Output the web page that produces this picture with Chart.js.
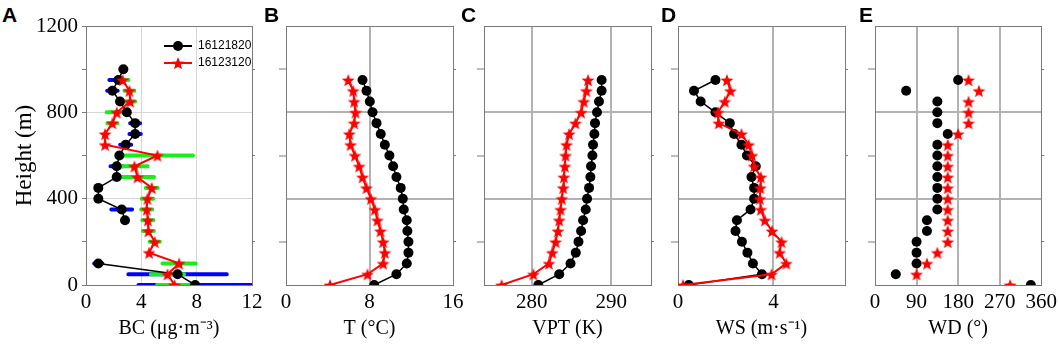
<!DOCTYPE html>
<html>
<head>
<meta charset="utf-8">
<script src="https://cdn.jsdelivr.net/npm/chart.js@4.4.1/dist/chart.umd.min.js"></script>
<style>
    body {margin: 0; background: #fff;}
    #fig {position: relative; width: 1059px; height: 345px; overflow: hidden; background: #fff;}
    #fig canvas {position: absolute; top: 0;}
    .tag {position: absolute; top: 4px; font: bold 21px 'Liberation Sans', Arial, sans-serif; line-height: 1; color: #000;}
</style>
</head>
<body>
<div id="fig"></div>
<script>
// MODULE'S VARS
const HEIGHTS = [0, 50, 100, 150, 200, 250, 300, 350, 400, 450, 500,
    550, 600, 650, 700, 750, 800, 850, 900, 950, 1000];
const SERIES_NAMES = ['16121820', '16123120'];

// BC (ug/m3) and its standard deviation
const BC_1218 = [7.89, 6.62, 0.89, null, null, null, 2.82, 2.58, 0.89, 0.89, 2.22,
    2.22, 2.41, 2.87, 3.55, 3.55, 2.95, 2.46, 1.91, 2.34, 2.7];
const BC_1218_ERR = [4.1, 3.56, 0.3, null, null, null, null, 0.75, null, null, null,
    0.45, null, 0.4, 0.41, 0.36, null, null, 0.38, 0.65, null];
const BC_1231 = [6.4, 5.89, 6.73, 4.56, 4.97, 4.51, 4.47, 4.39, 4.44, 4.75, 3.72,
    3.5, 5.16, 1.38, 1.38, 1.91, 2.22, 3.19, 3.14, 2.65, null];
const BC_1231_ERR = [1.27, 1.2, 1.2, null, 0.36, 0.4, 0.4, 0.4, 0.42, 0.43, 1.2,
    0.95, 2.57, null, null, 0.36, 0.73, 0.36, 0.36, 0.42, null];
// temperature (C)
const T_1218 = [8.45, 10.58, 11.57, 11.73, 11.73, 11.63, 11.57, 11.28, 11.19, 10.99, 10.58,
    10.26, 9.91, 9.47, 9.08, 8.67, 8.29, 8.03, 7.71, 7.33, null];
const T_1231 = [4.21, 7.81, 9.31, 9.47, 9.31, 9.05, 8.76, 8.51, 8.13, 7.71, 7.33,
    7.01, 6.6, 6.18, 6.06, 6.53, 6.66, 6.53, 6.44, 5.96, null];
// virtual potential temperature (K)
const VPT_1218 = [280.83, 283.46, 284.88, 285.54, 285.88, 286.21, 286.46, 286.79, 286.96, 287.21, 287.38,
    287.46, 287.63, 287.71, 287.88, 287.96, 288.21, 288.46, 288.79, 288.79, null];
const VPT_1231 = [276.21, 280.21, 282.17, 282.58, 283.0, 283.29, 283.46, 283.63, 283.79, 283.96, 284.04,
    284.17, 284.25, 284.38, 284.71, 285.5, 286.21, 286.54, 286.88, 287.08, null];
// wind speed (m/s)
const WS_1218 = [0.45, 3.52, 3.14, 2.91, 2.68, 2.41, 2.47, 3.04, 3.19, 3.19, 3.08,
    3.26, 2.89, 2.66, 2.35, 2.17, 1.57, 0.95, 0.67, 1.57, null];
const WS_1231 = [0.21, 3.92, 4.54, 4.26, 4.34, 3.94, 3.64, 3.47, 3.43, 3.45, 3.47,
    3.19, 3.1, 2.96, 2.66, 1.71, 1.68, 1.96, 2.2, 2.05, null];
// wind direction (deg)
const WD_1218 = [337.5, 45, 90, 90, 90, 112.5, 112.5, 135, 135, 135, 135,
    135, 135, 135, 157.5, 135, 135, 135, 67.5, 180, null];
const WD_1231 = [292.5, 90, 112.5, 135, 157.5, 157.5, 157.5, 157.5, 157.5, 157.5, 157.5,
    157.5, 157.5, 157.5, 180, 202.5, 202.5, 202.5, 225, 202.5, null];

// axis ticks
const TICKS_HEIGHT = [0, 200, 400, 600, 800, 1000, 1200];
const TICKS_BC = [0, 4, 8, 12];
const TICKS_T = [0, 8, 16];
const TICKS_VPT = [280, 290];
const TICKS_WS = [0, 4];
const TICKS_WD = [0, 90, 180, 270, 360];

// STYLES
const SERIF = "'Liberation Serif', 'Times New Roman', serif";
const SANS = "'Liberation Sans', Arial, sans-serif";
const BLACK = '#000000';
const RED = '#ff0000';
const GREEN = '#1aee1a';
const BLUE = '#0000ff';
const FRAME = '#7a7a7a';
const NONE = 'rgba(0,0,0,0)';
const PAD_R = 16;

// MODULE'S FUNCTIONS
function makeStar(color, R) {
    const c = document.createElement('canvas');
    const s = Math.ceil(R * 2) + 2;
    c.width = s;
    c.height = s;
    const g = c.getContext('2d');
    g.fillStyle = color;
    g.beginPath();
    for (let k = 0; k < 10; k++) {
        const r = (k % 2) ? R * 0.42 : R;
        const a = -Math.PI / 2 + k * Math.PI / 5;
        g.lineTo(s / 2 + r * Math.cos(a), s / 2 + 0.8 + r * Math.sin(a));
    }
    g.closePath();
    g.fill();
    return c;
}

function makeDot(color, r) {
    const c = document.createElement('canvas');
    c.width = c.height = r * 2 + 2;
    const g = c.getContext('2d');
    g.fillStyle = color;
    g.beginPath();
    g.arc(r + 1, r + 1, r, 0, Math.PI * 2);
    g.fill();
    return c;
}

function makeLegendIcon(color, marker) {
    const c = document.createElement('canvas');
    c.width = 28;
    c.height = 14;
    const g = c.getContext('2d');
    g.strokeStyle = color;
    g.lineWidth = 2;
    g.beginPath();
    g.moveTo(0, 7);
    g.lineTo(28, 7);
    g.stroke();
    g.drawImage(marker, 14 - marker.width / 2, 7 - marker.height / 2);
    return c;
}

const STAR = makeStar(RED, 6.8);
const ICON_BLACK = makeLegendIcon(BLACK, makeDot(BLACK, 5));
const ICON_RED = makeLegendIcon(RED, STAR);

function points(values) {
    return HEIGHTS.map((h, i) => (values[i] === null) ? {x: null, y: null} : {x: values[i], y: h});
}

function errorSegments(values, errors) {
    const res = [];
    HEIGHTS.forEach((h, i) => {
        if (values[i] === null || errors[i] === null) return;
        res.push({x: values[i] - errors[i], y: h}, {x: values[i] + errors[i], y: h}, {x: null, y: null});
    });
    return res;
}

const PANELS = [
    {tag: 'A', tagX: 2, left: 86, right: 252, padL: 86, title: 'BC (μg·m⁻³)', min: 0, max: 12, ticks: TICKS_BC,
        black: BC_1218, red: BC_1231, blackErr: BC_1218_ERR, redErr: BC_1231_ERR, lines: true, first: true},
    {tag: 'B', tagX: 264, left: 286, right: 453, padL: 24, title: 'T (°C)', min: 0, max: 16, ticks: TICKS_T,
        black: T_1218, red: T_1231, lines: true},
    {tag: 'C', tagX: 461, left: 484, right: 651, padL: 24, title: 'VPT (K)', min: 274, max: 295, ticks: TICKS_VPT,
        black: VPT_1218, red: VPT_1231, lines: true},
    {tag: 'D', tagX: 661, left: 678, right: 845, padL: 24, title: 'WS (m·s⁻¹)', min: 0, max: 7, ticks: TICKS_WS,
        black: WS_1218, red: WS_1231, lines: true},
    {tag: 'E', tagX: 859, left: 875, right: 1043, padL: 24, title: 'WD (°)', min: 0, max: 360, ticks: TICKS_WD,
        black: WD_1218, red: WD_1231, lines: false},
];

function buildScales(p) {
    const gridColor = p.first ? '#d6d6d6' : '#b2b2b2';
    const gridWidth = p.first ? 1 : 2;
    const inside = (lo, hi, step) => (ctx) =>
        (ctx.tick && ctx.tick.value > lo && ctx.tick.value < hi && (!step || ctx.tick.value % step === 0))
            ? gridColor : NONE;
    const minorOnly = (ctx) => (ctx.tick && ctx.tick.value % 400 !== 0) ? FRAME : NONE;
    const setX = (s) => { s.ticks = p.ticks.map((v) => ({value: v})); };
    const setY = (s) => { s.ticks = TICKS_HEIGHT.map((v) => ({value: v})); };
    return {
        x: {
            type: 'linear', position: 'bottom', min: p.min, max: p.max,
            afterBuildTicks: setX,
            afterFit: (s) => { s.height = 60; },
            ticks: {autoSkip: false, maxRotation: 0, padding: 2, color: '#000', font: {family: SERIF, size: 21}},
            grid: {color: inside(p.min, p.max), lineWidth: gridWidth, tickLength: 3, tickColor: NONE},
            border: {color: FRAME, width: 1},
            title: {display: true, text: p.title, color: '#000', font: {family: SERIF, size: 20},
                padding: {top: 0, bottom: 4}},
        },
        x2: {
            type: 'linear', position: 'top', min: p.min, max: p.max,
            afterBuildTicks: setX,
            afterFit: (s) => { s.height = 26; },
            ticks: {display: false},
            grid: {drawOnChartArea: false, drawTicks: false},
            border: {color: FRAME, width: 1},
        },
        y: {
            type: 'linear', position: 'left', min: 0, max: 1200,
            afterBuildTicks: setY,
            afterFit: (s) => { s.width = p.padL; },
            ticks: {
                display: !!p.first, padding: 4, color: '#000', font: {family: SERIF, size: 21},
                callback: (v) => (v % 400 === 0) ? String(v) : '',
            },
            grid: {
                color: inside(0, 1200, 400), lineWidth: gridWidth,
                tickLength: p.first ? 4 : 7, tickColor: p.first ? FRAME : minorOnly, tickWidth: 1,
            },
            border: {color: FRAME, width: 1},
            title: p.first ? {display: true, text: 'Height (m)', color: '#000', font: {family: SERIF, size: 23},
                padding: {top: 11, bottom: 0}} : {display: false},
        },
        y2: {
            type: 'linear', position: 'right', min: 0, max: 1200,
            afterBuildTicks: setY,
            afterFit: (s) => { s.width = PAD_R; },
            ticks: {display: false},
            grid: {drawOnChartArea: false, tickLength: 3, tickColor: minorOnly, tickWidth: 1},
            border: {color: FRAME, width: 1},
        },
    };
}

function buildDatasets(p) {
    const sets = [];
    sets.push({
        label: SERIES_NAMES[1], data: points(p.red), showLine: p.lines, order: 0,
        borderColor: RED, borderWidth: 2, tension: 0,
        pointStyle: STAR, pointRadius: 6, pointBorderWidth: 0, backgroundColor: RED,
    });
    sets.push({
        label: SERIES_NAMES[0], data: points(p.black), showLine: p.lines, order: 1,
        borderColor: BLACK, borderWidth: 1.5, tension: 0,
        pointStyle: 'circle', pointRadius: 5, pointBorderWidth: 0, backgroundColor: BLACK,
    });
    if (p.redErr) {
        sets.push({
            label: 'err2', data: errorSegments(p.red, p.redErr), showLine: true, order: 2,
            borderColor: GREEN, borderWidth: 4, borderCapStyle: 'round', pointRadius: 0,
        });
    }
    if (p.blackErr) {
        sets.push({
            label: 'err1', data: errorSegments(p.black, p.blackErr), showLine: true, order: 3,
            borderColor: BLUE, borderWidth: 4, borderCapStyle: 'round', pointRadius: 0,
        });
    }
    return sets;
}

// MAIN FUNCTIONALITY
const fig = document.getElementById('fig');
PANELS.forEach((p) => {
    const tag = document.createElement('div');
    tag.className = 'tag';
    tag.style.left = p.tagX + 'px';
    tag.textContent = p.tag;
    fig.appendChild(tag);

    const canvas = document.createElement('canvas');
    canvas.width = p.padL + (p.right - p.left) + PAD_R;
    canvas.height = 345;
    canvas.style.left = (p.left - p.padL) + 'px';
    fig.appendChild(canvas);

    const legend = p.first ? {
        display: true, position: 'chartArea', align: 'start',
        labels: {
            usePointStyle: true, pointStyleWidth: 28, boxHeight: 12, padding: 5,
            color: '#000', font: {family: SANS, size: 12},
            generateLabels: () => [
                {text: SERIES_NAMES[0], pointStyle: ICON_BLACK, fillStyle: BLACK, strokeStyle: BLACK,
                    lineWidth: 0, hidden: false, datasetIndex: 1, fontColor: '#000'},
                {text: SERIES_NAMES[1], pointStyle: ICON_RED, fillStyle: RED, strokeStyle: RED,
                    lineWidth: 0, hidden: false, datasetIndex: 0, fontColor: '#000'},
            ],
        },
    } : {display: false};

    new Chart(canvas, {
        type: 'scatter',
        data: {datasets: buildDatasets(p)},
        options: {
            responsive: false,
            animation: false,
            events: [],
            layout: {padding: 0, autoPadding: false},
            plugins: {legend, tooltip: {enabled: false}},
            scales: buildScales(p),
        },
        plugins: p.first ? [{
            id: 'legendSpot',
            afterLayout(chart) {
                const lg = chart.legend;
                if (!lg) return;
                lg.left = 159;
                lg.top = 35;
                lg.right = lg.left + lg.width + 20;
                lg.bottom = lg.top + lg.height;
            },
        }] : [],
    });
});
</script>
</body>
</html>
